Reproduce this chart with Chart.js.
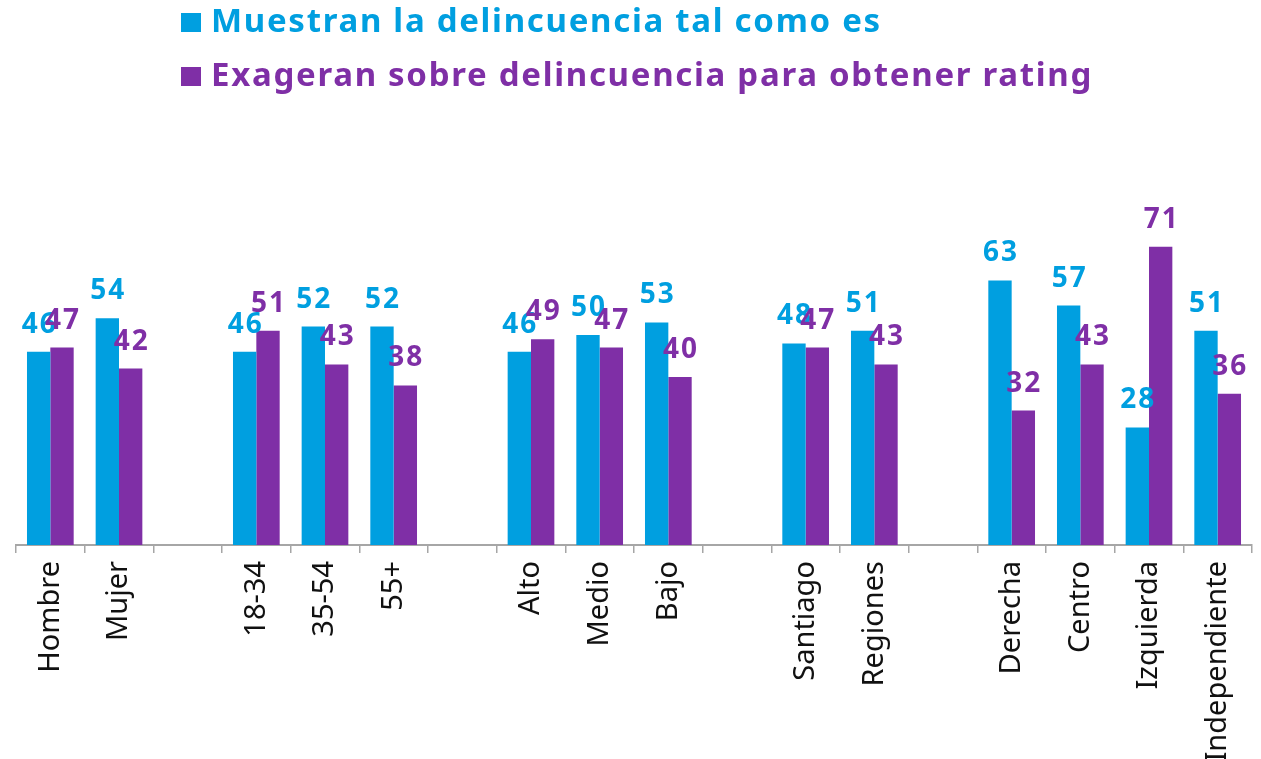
<!DOCTYPE html>
<html>
<head>
<meta charset="utf-8">
<title>Delincuencia en los medios</title>
<script src="https://cdn.jsdelivr.net/npm/chart.js@4.4.1/dist/chart.umd.min.js"></script>
<style>
    html, body { margin: 0; padding: 0; background: #fff; }
    #wrap { position: relative; width: 1261px; height: 759px; }
    .leyenda {
        position: absolute;
        left: 181px;
        font-family: "Noto Sans", sans-serif;
        font-weight: 700;
        font-size: 33px;
        letter-spacing: 1.7px;
        line-height: 40px;
        white-space: nowrap;
    }
    .leyenda .cuadro { display: inline-block; width: 20px; height: 19px; margin-right: 10px; }
</style>
</head>
<body>
<div id="wrap">
    <canvas id="grafico" width="1261" height="759"></canvas>
    <div class="leyenda" id="ley1" style="top: 0px;"></div>
    <div class="leyenda" id="ley2" style="top: 54px;"></div>
</div>
<script>
// Datos del gráfico (las categorías vacías separan los grupos)
const categorias = ['Hombre', 'Mujer', '', '18-34', '35-54', '55+', '', 'Alto', 'Medio', 'Bajo', '',
    'Santiago', 'Regiones', '', 'Derecha', 'Centro', 'Izquierda', 'Independiente'];
const muestran = [46, 54, null, 46, 52, 52, null, 46, 50, 53, null, 48, 51, null, 63, 57, 28, 51];
const exageran = [47, 42, null, 51, 43, 38, null, 49, 47, 40, null, 47, 43, null, 32, 43, 71, 36];
const nombresSeries = ['Muestran la delincuencia tal como es', 'Exageran sobre delincuencia para obtener rating'];

const azul = '#009FE0';
const morado = '#7F2FA6';

// Leyenda en HTML, alineada a la izquierda como en el original
function armarLeyenda(id, texto, color) {
    const el = document.getElementById(id);
    el.style.color = color;
    el.innerHTML = `<span class="cuadro" style="background:${color}"></span>${texto}`;
}
armarLeyenda('ley1', nombresSeries[0], azul);
armarLeyenda('ley2', nombresSeries[1], morado);

// Etiquetas de valor sobre cada barra
const etiquetasValores = {
    id: 'etiquetasValores',
    afterDatasetsDraw(chart) {
        const ctx = chart.ctx;
        chart.data.datasets.forEach((ds, i) => {
            const meta = chart.getDatasetMeta(i);
            meta.data.forEach((bar, j) => {
                const v = ds.data[j];
                if (v == null) return;
                ctx.save();
                ctx.font = 'bold 28px "Noto Sans"';
                ctx.letterSpacing = '2px';
                ctx.fillStyle = ds.backgroundColor;
                ctx.textAlign = 'center';
                ctx.textBaseline = 'alphabetic';
                ctx.fillText(v, bar.x + 1, bar.y - 19);
                ctx.restore();
            });
        });
    }
};

new Chart(document.getElementById('grafico').getContext('2d'), {
    type: 'bar',
    data: {
        labels: categorias,
        datasets: [
            { label: nombresSeries[0], data: muestran, backgroundColor: azul, categoryPercentage: 0.68, barPercentage: 1.0 },
            { label: nombresSeries[1], data: exageran, backgroundColor: morado, categoryPercentage: 0.68, barPercentage: 1.0 }
        ]
    },
    options: {
        responsive: false,
        animation: false,
        layout: { padding: { top: 125, left: 16, right: 9, bottom: 0 } },
        plugins: {
            legend: { display: false },
            tooltip: { enabled: false }
        },
        scales: {
            x: {
                grid: { offset: true, drawOnChartArea: false, drawTicks: true, tickLength: 8, color: '#a6a6a6', lineWidth: 1.5 },
                border: { color: '#a6a6a6', width: 2 },
                ticks: {
                    autoSkip: false,
                    minRotation: 90,
                    maxRotation: 90,
                    padding: 8,
                    color: '#111',
                    font: { family: '"Noto Sans"', size: 29 }
                },
                afterFit(scale) { scale.height = 214; }
            },
            y: { display: false, min: 0, max: 100 }
        }
    },
    plugins: [etiquetasValores]
});
</script>
</body>
</html>
